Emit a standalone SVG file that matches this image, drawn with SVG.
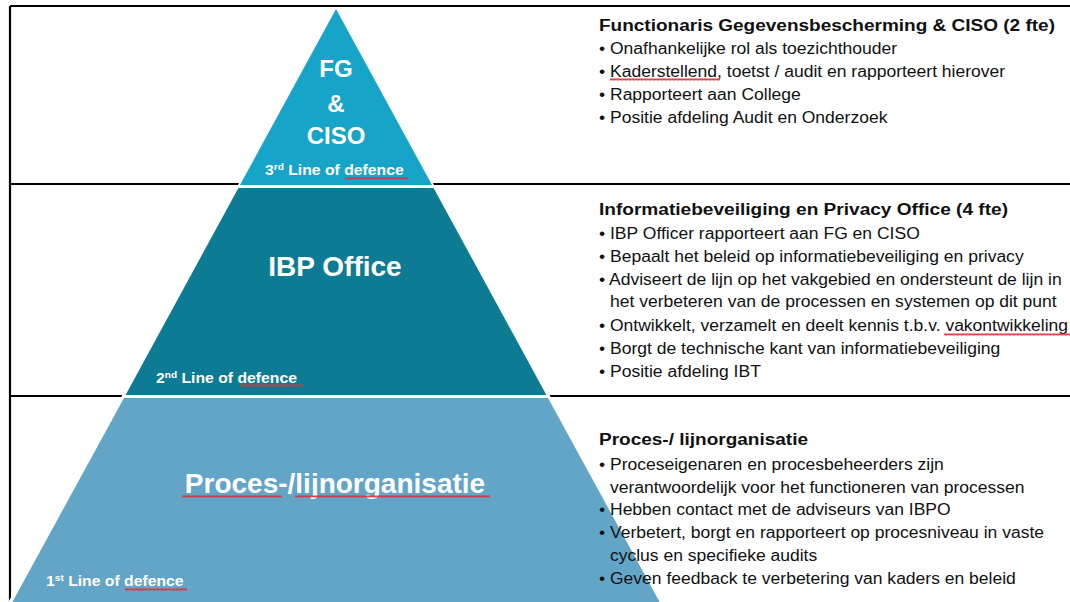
<svg xmlns="http://www.w3.org/2000/svg" width="1070" height="602" viewBox="0 0 1070 602">
<style>
.frame{stroke:#000;stroke-width:2.2;fill:none}
.lbl{font-family:"Liberation Sans",Arial,sans-serif;font-weight:bold;fill:#fff;text-anchor:middle}
.lod{font-family:"Liberation Sans",Arial,sans-serif;font-weight:bold;fill:#fff;font-size:14px}
.sup{font-size:9px}
.ttl{font-family:"Liberation Sans",Arial,sans-serif;font-weight:bold;fill:#111;font-size:16px}
.txt{font-family:"Liberation Sans",Arial,sans-serif;fill:#111;font-size:16px}
.sq{fill:url(#squig)}
</style>
<defs>
<pattern id="squig" x="0" y="0" width="4" height="3" patternUnits="userSpaceOnUse">
<path d="M0,2.6 L1,0.4 L2,2.6 L3,0.4 L4,2.6" fill="none" stroke="#e0303c" stroke-width="0.9"/>
</pattern>
</defs>
<rect width="1070" height="602" fill="#fff"/>
<g id="frame">
<path class="frame" d="M10,6 H1070 M10,6 V602 M10,184 H1070 M10,396 H1070"/>
</g>
<g id="pyramid-bg">
<polygon points="336,7 668,610 4,610" fill="#fff"/>
</g>
<g id="level3">
<polygon points="336,9 432,185 240,185" fill="#16a5c8"/>
<text class="lbl" x="336" y="77" font-size="24">FG</text>
<text class="lbl" x="336" y="112" font-size="24">&amp;</text>
<text class="lbl" x="336" y="144" font-size="24">CISO</text>
<text class="lod" x="265" y="175" transform="matrix(1.125,0,0,1,-33.125,0)">3<tspan class="sup" dy="-5">rd</tspan><tspan dy="5"> Line of defence</tspan></text>
<rect class="sq" x="345" y="177" width="63" height="3"/>
</g>
<g id="level2">
<polygon points="238.4,188 433.6,188 546.4,395 125.6,395" fill="#0e7b94"/>
<text class="lbl" x="335" y="276" font-size="28">IBP Office</text>
<text class="lod" x="156" y="383" transform="matrix(1.125,0,0,1,-19.5,0)">2<tspan class="sup" dy="-5">nd</tspan><tspan dy="5"> Line of defence</tspan></text>
<rect class="sq" x="240" y="384" width="63" height="3"/>
</g>
<g id="level1">
<polygon points="124,398 548,398 664,610 8,610" fill="#62a5c6"/>
<text class="lbl" x="335" y="493" font-size="28">Proces-/lijnorganisatie</text>
<rect class="sq" x="182" y="495" width="100" height="3"/>
<rect class="sq" x="295" y="495" width="195" height="3"/>
<text class="lod" x="46" y="586" transform="matrix(1.125,0,0,1,-5.75,0)">1<tspan class="sup" dy="-5">st</tspan><tspan dy="5"> Line of defence</tspan></text>
<rect class="sq" x="125" y="588" width="62" height="3"/>
</g>
<g id="desc3">
<text class="ttl" x="599" y="31" textLength="456" lengthAdjust="spacingAndGlyphs">Functionaris Gegevensbescherming &amp; CISO (2 fte)</text>
<g transform="matrix(1.095,0,0,1,-56.905,0)">
<text class="txt" x="599" y="54">• Onafhankelijke rol als toezichthouder</text>
<text class="txt" x="599" y="77">• Kaderstellend, toetst / audit en rapporteert hierover</text>
<text class="txt" x="599" y="100">• Rapporteert aan College</text>
<text class="txt" x="599" y="123">• Positie afdeling Audit en Onderzoek</text>
</g>
<rect class="sq" x="610" y="78" width="110" height="3"/>
</g>
<g id="desc2">
<text class="ttl" x="599" y="215" textLength="409" lengthAdjust="spacingAndGlyphs">Informatiebeveiliging en Privacy Office (4 fte)</text>
<g transform="matrix(1.095,0,0,1,-56.905,0)">
<text class="txt" x="599" y="239">• IBP Officer rapporteert aan FG en CISO</text>
<text class="txt" x="599" y="262">• Bepaalt het beleid op informatiebeveiliging en privacy</text>
<text class="txt" x="599" y="285">• Adviseert de lijn op het vakgebied en ondersteunt de lijn in</text>
<text class="txt" x="609" y="307">het verbeteren van de processen en systemen op dit punt</text>
<text class="txt" x="599" y="331">• Ontwikkelt, verzamelt en deelt kennis t.b.v. vakontwikkeling</text>
<text class="txt" x="599" y="354">• Borgt de technische kant van informatiebeveiliging</text>
<text class="txt" x="599" y="377">• Positie afdeling IBT</text>
</g>
<rect class="sq" x="944" y="333" width="126" height="3"/>
</g>
<g id="desc1">
<text class="ttl" x="599" y="445" textLength="209" lengthAdjust="spacingAndGlyphs">Proces-/ lijnorganisatie</text>
<g transform="matrix(1.095,0,0,1,-56.905,0)">
<text class="txt" x="599" y="470">• Proceseigenaren en procesbeheerders zijn</text>
<text class="txt" x="609" y="493">verantwoordelijk voor het functioneren van processen</text>
<text class="txt" x="599" y="515">• Hebben contact met de adviseurs van IBPO</text>
<text class="txt" x="599" y="538">• Verbetert, borgt en rapporteert op procesniveau in vaste</text>
<text class="txt" x="609" y="561">cyclus en specifieke audits</text>
<text class="txt" x="599" y="584">• Geven feedback te verbetering van kaders en beleid</text>
</g>
</g>
</svg>
